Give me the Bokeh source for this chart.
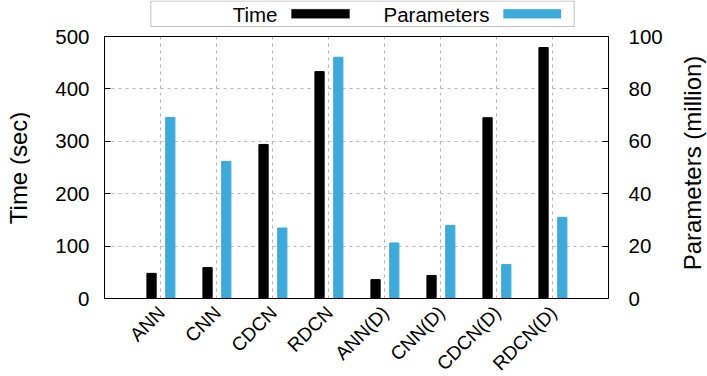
from bokeh.plotting import figure
from bokeh.layouts import row
from bokeh.models import (ColumnDataSource, Range1d, LinearAxis, FixedTicker, Span,
                          BoxAnnotation, Label)
from bokeh.core.properties import value
from bokeh.transform import dodge
from bokeh.embed import file_html
from bokeh.resources import INLINE
import math

# ---- data ----
categories = ["ANN", "CNN", "CDCN", "RDCN", "ANN(D)", "CNN(D)", "CDCN(D)", "RDCN(D)"]
time_sec = [48, 59, 294, 433, 36, 44, 345, 479]
params_million = [69.1, 52.3, 26.9, 92.1, 21.2, 27.9, 13.0, 31.0]
time_ticks = [0, 100, 200, 300, 400, 500]
param_ticks = [0, 20, 40, 60, 80, 100]
legend_names = ["Time", "Parameters"]
left_title = "Time (sec)"
right_title = "Parameters (million)"

FONT = "Liberation Sans"
BLUE = "#3eaad9"
GRID = "#b4b4b4"
H = 376

idx = list(range(len(categories)))
src = ColumnDataSource(dict(x=idx, t=time_sec, pm=params_million, name=categories))
xr = Range1d(-1, len(categories))


def strip(w):
    f = figure(width=w, height=H, x_range=Range1d(0, w), y_range=Range1d(0, H),
               output_backend="svg", toolbar_location=None, min_border=0,
               x_axis_location=None, y_axis_location=None)
    f.grid.visible = False
    f.outline_line_color = None
    return f


# ---------------- axis titles (separate strips) ----------------
lt = strip(30)
lt.text(x=[17.5], y=[208.5], text=[left_title], angle=math.pi / 2, text_align="center",
        text_baseline="middle", text_font=value(FONT), text_font_size="24px",
        text_color="black")
rt = strip(35)
rt.text(x=[19.5], y=[213.5], text=[right_title], angle=math.pi / 2, text_align="center",
        text_baseline="middle", text_font=value(FONT), text_font_size="24px",
        text_color="black")

# ---------------- main chart ----------------
# 262 px for the 0..500 span, 36 px above it (legend), 78 px below it (labels)
PX = 262.0
ABOVE, BELOW = 36.0, 78.0
t_rng = Range1d(-BELOW / PX * time_ticks[-1], time_ticks[-1] * (1 + ABOVE / PX))
p_rng = Range1d(-BELOW / PX * param_ticks[-1], param_ticks[-1] * (1 + ABOVE / PX))

fig = figure(width=642, height=H, x_range=xr, y_range=t_rng, output_backend="svg",
             toolbar_location=None, min_border_left=74, min_border_right=64,
             min_border_top=0, min_border_bottom=0, x_axis_location=None)
fig.extra_y_ranges = {"params": p_rng}
fig.xgrid.visible = False
fig.outline_line_color = None

fig.segment(x0=idx, y0=[time_ticks[0]] * len(idx), x1=idx,
            y1=[time_ticks[-1]] * len(idx), line_color=GRID, line_dash="3 4",
            line_width=1)

fig.vbar(x=dodge("x", -0.16, range=xr), top="t", width=0.165, source=src,
         fill_color="black", line_color="black")
fig.vbar(x=dodge("x", 0.175, range=xr), top="pm", width=0.165, source=src,
         fill_color=BLUE, line_color=BLUE, y_range_name="params")

fig.add_layout(Span(location=time_ticks[0], dimension="width", line_color="black",
                    line_width=1))
fig.add_layout(Span(location=time_ticks[-1], dimension="width", line_color="black",
                    line_width=1))

ya = fig.yaxis[0]
ya.ticker = FixedTicker(ticks=time_ticks)
ya.bounds = (time_ticks[0], time_ticks[-1])
ya.major_label_standoff = 15

yr = LinearAxis(y_range_name="params", ticker=FixedTicker(ticks=param_ticks),
                bounds=(param_ticks[0], param_ticks[-1]))
yr.major_label_standoff = 20
fig.add_layout(yr, "right")

for a in (ya, yr):
    a.major_tick_in = 6
    a.major_tick_out = 0
    a.minor_tick_line_color = None
    a.major_label_text_font = FONT
    a.major_label_text_font_size = "20.5px"
    a.major_label_text_color = "black"
    a.axis_line_color = "black"
    a.major_tick_line_color = "black"

fig.ygrid.ticker = FixedTicker(ticks=time_ticks)
fig.ygrid.grid_line_color = GRID
fig.ygrid.grid_line_dash = "3 4"
fig.ygrid.grid_line_width = 1

# rotated category labels under the box
fig.text(x="x", y=time_ticks[0], text="name", source=src, angle=math.pi / 4,
         text_align="right", text_baseline="middle", x_offset=1, y_offset=11,
         text_font=value(FONT), text_font_size="19px", text_color="black")

# legend (gnuplot style: text then swatch); screen units from frame bottom-left
def sbox(l, r, t, b, **kw):
    return BoxAnnotation(left=l, right=r, top=t, bottom=b,
                         left_units="screen", right_units="screen",
                         top_units="screen", bottom_units="screen", **kw)

fig.add_layout(sbox(46.3, 469.7, 375.5, 350, fill_color="white", fill_alpha=1,
                    line_color="#333333", line_width=1))
for name, x_right, sw_l, sw_r, col in ((legend_names[0], 173, 187, 245, "black"),
                                       (legend_names[1], 385, 399, 456.5, BLUE)):
    fig.add_layout(Label(x=x_right, y=362.5, x_units="screen", y_units="screen",
                         text=name, text_align="right", text_baseline="alphabetic",
                         text_font=FONT, text_font_size="20.5px", text_color="black"))
    fig.add_layout(sbox(sw_l, sw_r, 367.2, 358.2, fill_color=col, fill_alpha=1,
                        line_color=col))

p = row(lt, fig, rt, spacing=0)
open("out.html", "w").write(file_html(p, INLINE))
